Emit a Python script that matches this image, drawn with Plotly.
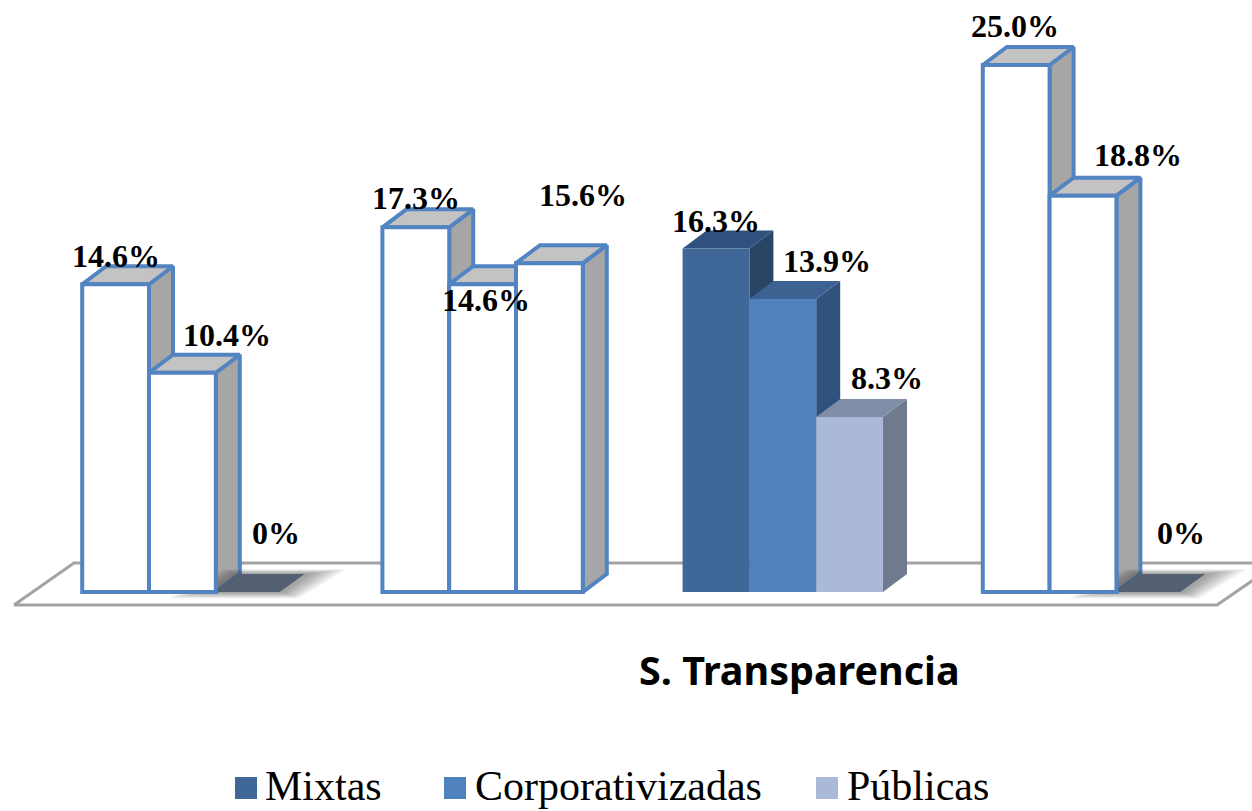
import plotly.graph_objects as go

GROUPS = [0, 1, 2, 3]
SERIES = ["Mixtas", "Corporativizadas", "Públicas"]
MIXTAS = [14.6, 17.3, 16.3, 25.0]
CORPORATIVIZADAS = [10.4, 14.6, 13.9, 18.8]
PUBLICAS = [0, 15.6, 8.3, 0]
VALUES = [MIXTAS, CORPORATIVIZADAS, PUBLICAS]
LABELS = [["14.6%", "17.3%", "16.3%", "25.0%"],
          ["10.4%", "14.6%", "13.9%", "18.8%"],
          ["0%", "15.6%", "8.3%", "0%"]]
TITLE = "S. Transparencia"

# ---- layout / style -------------------------------------------------
W, H = 1252, 811
PX_PER_GROUP = 300.2
PX_PER_UNIT = 21.08
X0_PX, Y0_PX = 182.4, 592.0
BAR_W = 66.8 / PX_PER_GROUP
DX, DY = 24 / PX_PER_GROUP, 18 / PX_PER_UNIT
XR = [-X0_PX / PX_PER_GROUP, (W - X0_PX) / PX_PER_GROUP]
YR = [(Y0_PX - H) / PX_PER_UNIT, Y0_PX / PX_PER_UNIT]
BLUE = "#5384c2"
FILLED_GROUP = 2
FRONT = ["#3f6899", "#4f81bd", "#aab9d7"]
SIDE = ["#2a4466", "#31527c", "#6f7a8c"]
TOP = ["#2f5180", "#3d6291", "#808da6"]
ZERO_TOP = "#555f72"
LABEL_SHIFT = [[(0, 28), (0, 29), (0, 27), (-1, 39)],
               [(45, 38), (3, -16), (44, 38), (55, 41)],
               [(27, 59), (34, 68), (37, 39), (31, 59)]]


def xpx(p):
    return (p - X0_PX) / PX_PER_GROUP


def ypx(p):
    return (Y0_PX - p) / PX_PER_UNIT


fig = go.Figure()


def poly(xs, ys, fill, line=None, lw=0, axes=("x", "y")):
    fig.add_trace(go.Scatter(
        x=xs + xs[:1], y=ys + ys[:1], mode="lines", fill="toself", fillcolor=fill,
        line=dict(color=line or "rgba(0,0,0,0)", width=lw),
        showlegend=False, hoverinfo="skip", xaxis=axes[0], yaxis=axes[1]))


# floor
fx = [xpx(14), xpx(1217), xpx(1278), xpx(74)]
fy = [ypx(605), ypx(605), ypx(563), ypx(563)]
poly(fx, fy, "#ffffff", "#a3a3a3", 3)

# depth faces
for g in GROUPS:
    for s in range(3):
        v = VALUES[s][g]
        cx = g + (s - 1) * BAR_W
        l, r = cx - BAR_W / 2, cx + BAR_W / 2
        white = g != FILLED_GROUP
        line = BLUE if white else None
        lw = 4 if white else 0
        if v == 0:
            # soft shadow falling around the flat marker
            for k in range(40, 0, -4):
                e = k / PX_PER_GROUP
                poly([l - e * 1.2, r + e * 0.4, r + DX + e, l + DX - e * 0.4],
                     [v - k * 0.16 / PX_PER_UNIT, v - k * 0.16 / PX_PER_UNIT,
                      v + DY + k * 0.12 / PX_PER_UNIT, v + DY + k * 0.12 / PX_PER_UNIT],
                     "rgba(60,60,60,0.055)")
            poly([l, r - 3 / PX_PER_GROUP, r + DX - 2 / PX_PER_GROUP, l + DX],
                 [v, v, v + DY, v + DY], ZERO_TOP)
            continue
        poly([r, r + DX, r + DX, r], [0, DY, v + DY, v],
             "#a6a6a6" if white else SIDE[s], line, lw)
        poly([l, r, r + DX, l + DX], [v, v, v + DY, v + DY],
             "#c3c3c3" if white else TOP[s], line, lw)

# front faces, on an overlaying pair of axes so that they hide the depth faces
for s, name in enumerate(SERIES):
    vals = VALUES[s]
    fig.add_trace(go.Bar(
        x=GROUPS, y=vals, name=name, xaxis="x2", yaxis="y2", showlegend=False,
        marker=dict(
            color=[FRONT[s] if g == FILLED_GROUP else "#ffffff" for g in GROUPS],
            line=dict(color=BLUE,
                      width=[0 if (g == FILLED_GROUP or vals[g] == 0) else 4 for g in GROUPS]),
        ),
    ))

# value labels
ann = []
for s in range(3):
    for g in GROUPS:
        sx, sy = LABEL_SHIFT[s][g]
        ann.append(dict(x=g + (s - 1) * BAR_W, y=VALUES[s][g], xref="x2", yref="y2",
                        text="<b>%s</b>" % LABELS[s][g], showarrow=False,
                        xanchor="center", yanchor="middle", xshift=sx, yshift=sy,
                        font=dict(family="Liberation Serif", size=32, color="#000000")))

ann.append(dict(x=799 / W, y=1 - 670 / H, xref="paper", yref="paper", text="<b>%s</b>" % TITLE,
                showarrow=False, xanchor="center", yanchor="middle",
                font=dict(family="Noto Sans", size=39.5, color="#000000")))

shapes = []
for name, color, sw, tx in zip(SERIES, FRONT, (235, 444, 816), (266, 476, 848)):
    shapes.append(dict(type="rect", xref="paper", yref="paper", x0=sw / W, x1=(sw + 22) / W,
                       y0=1 - 799 / H, y1=1 - 777 / H, fillcolor=color, line=dict(width=0)))
    ann.append(dict(x=tx / W, y=1 - 785.5 / H, xref="paper", yref="paper", text=name,
                    showarrow=False, xanchor="left", yanchor="middle", xshift=-3,
                    font=dict(family="Liberation Serif", size=42, color="#000000")))

axis = dict(visible=False, showgrid=False, zeroline=False, fixedrange=True)
fig.update_layout(
    width=W, height=H, margin=dict(l=0, r=0, t=0, b=0, pad=0),
    paper_bgcolor="#ffffff", plot_bgcolor="#ffffff",
    barmode="group", bargap=1 - 3 * BAR_W, bargroupgap=0,
    showlegend=False, annotations=ann, shapes=shapes,
    xaxis=dict(range=XR, **axis), yaxis=dict(range=YR, **axis),
    xaxis2=dict(range=XR, overlaying="x", **axis),
    yaxis2=dict(range=YR, overlaying="y", **axis),
)

fig.write_html("out.html", config={"displayModeBar": False},
               post_script="document.body.style.margin='0';")
